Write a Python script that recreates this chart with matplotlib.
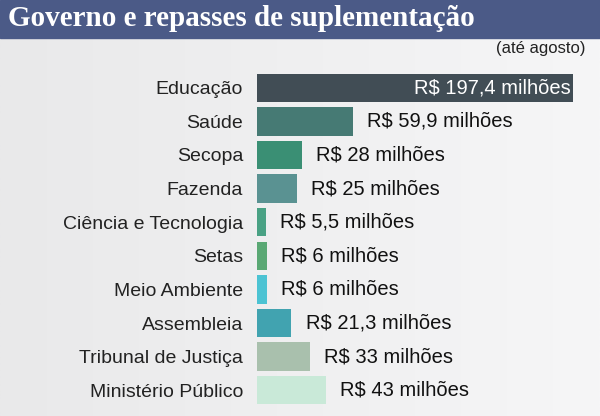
import matplotlib.pyplot as plt
import numpy as np

categorias = ["Educação", "Saúde", "Secopa", "Fazenda", "Ciência e Tecnologia",
              "Setas", "Meio Ambiente", "Assembleia", "Tribunal de Justiça", "Ministério Público"]
valores = [197.4, 59.9, 28, 25, 5.5, 6, 6, 21.3, 33, 43]
rotulos = ["R$ 197,4 milhões", "R$ 59,9 milhões", "R$ 28 milhões", "R$ 25 milhões",
           "R$ 5,5 milhões", "R$ 6 milhões", "R$ 6 milhões", "R$ 21,3 milhões",
           "R$ 33 milhões", "R$ 43 milhões"]
cores = ["#414d55", "#467a74", "#3a8f74", "#5a9292", "#49a184",
         "#5aa874", "#4cc3d3", "#41a3b0", "#a9c0ad", "#c9e9d8"]

plt.rcParams['font.family'] = ['Liberation Sans', 'DejaVu Sans']

W, H = 600, 416
fig = plt.figure(figsize=(6, 4.16), dpi=100)

# fundo cinza claro com leve gradiente
bg = fig.add_axes([0, 0, 1, 1])
grad = np.linspace(0, 1, 256).reshape(1, -1)
bg.imshow(grad, cmap=plt.cm.colors.LinearSegmentedColormap.from_list("g", ["#e9e9ea", "#f6f6f7"]),
          aspect="auto", extent=[0, 1, 0, 1])
bg.add_patch(plt.Rectangle((0, 1 - 38 / H), 1, 38 / H, color="#4b5a87"))
bg.text(8 / W, 1 - 19 / H, "Governo e repasses de suplementação", color="white",
        fontsize=21, fontweight="bold", family="Liberation Serif", va="center", ha="left")
bg.text(586 / W, 1 - 48 / H, "(até agosto)", fontsize=12, ha="right", va="center", color="#222222")
bg.set_xlim(0, 1); bg.set_ylim(0, 1); bg.axis("off")

top, bottom = 71, 407
ax = fig.add_axes([257 / W, 1 - bottom / H, 316 / W, (bottom - top) / H])
ax.patch.set_alpha(0)
y = np.arange(len(categorias))
ax.barh(y, valores, height=0.84, color=cores)
ax.set_xlim(0, 197.4)
ax.set_ylim(len(categorias) - 0.5, -0.5)
ax.set_yticks(y)
ax.set_yticklabels(categorias, fontsize=14, color="#222222")
ax.tick_params(axis="y", length=0, pad=10)
ax.set_xticks([])
for s in ax.spines.values():
    s.set_visible(False)
for i, (v, r) in enumerate(zip(valores, rotulos)):
    if i == 0:
        ax.text(v - 1.5, i, r, color="white", fontsize=14.5, ha="right", va="center")
    else:
        ax.text(v + 9, i, r, color="#111111", fontsize=14.5, ha="left", va="center")

fig.savefig("out.png", dpi=100)
